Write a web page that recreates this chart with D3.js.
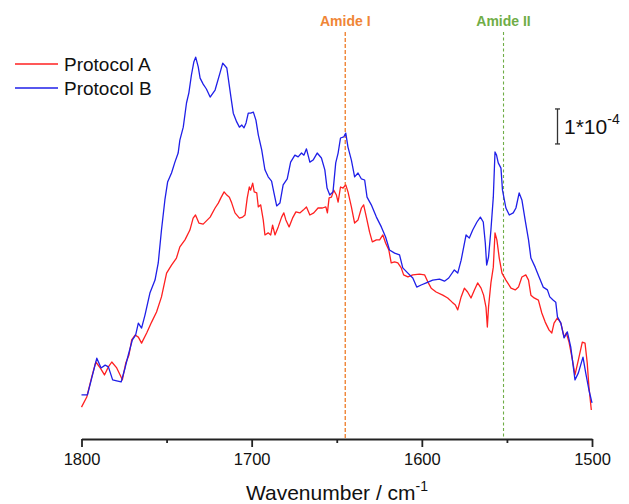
<html>
<head>
  <meta charset="utf-8">
  <style>
    body { margin: 0; background: #fff; }
    svg { font-family: "Liberation Sans", Arial, sans-serif; }
    .line { fill: none; stroke-width: 1.3; stroke-linejoin: round; }
  </style>
</head>
<body>
  <svg id="chart" width="629" height="504"></svg>
  <script src="https://cdn.jsdelivr.net/npm/d3@7/dist/d3.min.js"></script>
  <script>
    // wavenumbers (cm-1) and absorbance (units of 1e-4, arbitrary offset)
    let waveA = [1800,1796.9,1794.0,1791.6,1789.0,1786.5,1784.2,1782.2,1779.3,1777.3,1776.0,1774.0,1772.1,1770.5,1768.5,1766.6,1764.7,1761.7,1758.8,1755.9,
      1753.0,1750.0,1747.1,1744.2,1742.2,1739.2,1736.3,1734.4,1733.0,1731.0,1728.5,1726.0,1724.4,1721.5,1719.6,1718.1,1716.2,1714.6,1713.1,1711.7,
      1709.8,1707.2,1705.3,1703.9,1702.6,1701.4,1700.6,1699.4,1698.5,1697.0,1696.1,1694.7,1693.2,1692.2,1690.3,1688.8,1687.7,1686.3,1684.4,1682.4,
      1681.1,1679.9,1678.0,1676.0,1674.0,1671.7,1669.7,1667.8,1665.8,1663.5,1661.0,1658.4,1656.4,1655.5,1654.5,1653.1,1651.8,1650.2,1649.2,1647.8,
      1646.3,1644.7,1643.4,1641.4,1639.5,1637.5,1635.5,1634.2,1632.6,1630.7,1629.1,1626.7,1624.8,1622.9,1621.3,1619.4,1618.0,1616.0,1614.1,1612.1,
      1610.7,1608.2,1605.3,1601.4,1598.4,1596.5,1594.5,1591.6,1587.7,1584.8,1582.2,1580.3,1578.9,1576.9,1575.0,1573.1,1571.1,1569.1,1567.2,1565.2,
      1563.7,1562.3,1561.5,1560.8,1559.4,1558.0,1557.0,1555.9,1554.5,1552.9,1550.6,1547.6,1545.1,1543.2,1541.2,1538.9,1537.3,1535.9,1534.0,1531.5,
      1529.5,1527.5,1525.2,1523.6,1522.3,1520.3,1518.3,1516.4,1515.1,1513.5,1511.5,1510.0,1508.0,1505.7,1504.1,1502.8,1501.8,1500.4]
    let absA = [0.91,1.20,1.77,2.20,2.03,1.83,2.06,2.20,2.03,1.83,1.69,2.17,2.40,2.83,2.97,2.91,2.74,3.03,3.34,3.63,
      4.06,4.74,4.97,5.17,5.49,5.69,5.97,6.31,6.40,6.17,6.14,6.26,6.34,6.60,6.74,6.89,7.06,6.97,6.91,6.74,
      6.46,6.31,6.34,6.40,6.89,7.20,7.11,7.31,7.06,7.03,6.63,6.69,6.26,5.83,5.89,5.83,6.11,5.83,6.06,6.34,
      6.46,6.26,6.06,6.31,6.49,6.46,6.54,6.63,6.40,6.46,6.60,6.60,6.63,6.46,6.89,6.91,7.11,6.97,6.77,7.20,
      7.17,7.26,7.06,6.63,6.17,6.26,6.60,6.69,6.34,5.91,5.63,5.69,5.69,5.83,5.60,5.40,5.03,5.06,5.03,4.89,
      4.69,4.63,4.69,4.71,4.69,4.49,4.31,4.20,4.11,4.03,3.91,3.83,3.69,4.06,4.31,4.20,4.03,4.26,4.46,4.31,
      4.11,3.77,3.20,3.77,4.46,4.91,5.89,5.69,5.17,4.74,4.54,4.31,4.26,4.34,4.63,4.69,4.54,4.11,4.03,3.97,
      3.60,3.34,3.11,3.03,3.31,3.46,3.31,2.91,3.03,2.77,2.26,1.83,2.26,2.77,2.74,2.17,1.49,0.83]

    let waveB = [1800,1796.5,1794.0,1791.0,1788.5,1786.1,1784.2,1781.7,1779.3,1776.7,1774.4,1772.5,1770.1,1768.2,1766.6,1764.7,1762.7,1759.8,1756.8,1754.9,
      1753.0,1751.0,1749.4,1747.1,1745.1,1743.2,1742.2,1740.2,1738.3,1736.9,1735.4,1734.0,1732.9,1731.4,1730.3,1728.5,1726.6,1724.4,1721.5,1718.6,
      1717.0,1714.6,1712.1,1710.8,1708.8,1707.2,1705.8,1704.5,1703.3,1702.0,1700.6,1699.0,1697.5,1696.1,1694.1,1692.2,1690.3,1688.3,1686.9,1685.3,
      1683.4,1681.5,1679.1,1677.1,1674.6,1672.7,1670.7,1669.3,1667.8,1665.8,1663.9,1661.5,1659.0,1657.0,1655.7,1654.1,1652.2,1650.6,1649.2,1647.8,
      1645.9,1644.7,1643.4,1641.4,1639.5,1637.5,1635.5,1633.6,1632.2,1629.7,1626.7,1623.8,1621.3,1619.0,1616.0,1613.1,1611.2,1608.2,1605.3,1603.0,
      1600.4,1597.4,1593.6,1589.6,1586.7,1584.2,1580.9,1578.9,1576.9,1574.0,1572.1,1570.1,1567.6,1565.6,1563.9,1562.7,1561.9,1560.8,1559.4,1558.0,
      1557.0,1556.1,1555.1,1553.5,1552.6,1550.6,1548.6,1546.3,1544.7,1542.8,1541.2,1539.3,1537.3,1535.9,1533.4,1531.1,1528.7,1526.2,1524.8,1522.9,
      1521.3,1520.3,1518.3,1516.4,1514.5,1512.5,1510.0,1508.0,1505.3,1503.7,1501.8,1500]
    let absB = [1.26,1.26,1.74,2.31,2.03,2.11,2.06,1.69,1.66,1.63,2.03,2.40,2.83,2.97,3.31,3.17,3.54,4.17,4.54,5.03,
      5.97,6.83,7.34,7.60,7.91,8.17,8.54,8.91,9.60,9.89,10.40,10.77,10.91,10.63,10.31,10.14,10.00,9.77,9.97,10.46,
      10.74,10.60,9.74,9.31,9.06,8.91,8.97,8.89,9.03,9.31,9.31,9.34,9.11,8.69,8.26,7.69,7.49,7.37,7.03,6.66,
      6.74,7.26,7.43,7.91,8.11,8.06,8.17,8.11,8.29,7.91,7.97,8.17,8.03,7.69,7.17,6.97,7.06,7.89,8.17,8.60,
      8.63,8.74,8.34,7.97,7.49,7.60,7.43,7.40,6.91,6.69,6.34,6.06,5.77,5.40,5.31,5.26,4.89,4.74,4.60,4.34,
      4.40,4.46,4.54,4.57,4.51,4.60,4.83,4.74,5.11,5.83,5.74,5.97,6.20,6.34,6.20,5.60,4.97,5.20,5.97,6.91,
      8.20,8.11,7.89,7.74,7.11,6.60,6.40,6.46,6.60,7.03,6.83,6.26,5.69,5.17,4.91,4.63,4.34,4.26,4.06,3.97,
      3.91,3.49,3.31,2.89,3.06,2.63,1.69,1.89,2.34,1.89,1.40,1.03]

    let seriesNames = ["Protocol A", "Protocol B"]
    let seriesColors = ["#ff2020", "#1f1fe8"]
    let xTicks = [1800, 1700, 1600, 1500]
    let xMinorTicks = [1750, 1650, 1550]
    let markerNames = ["Amide I", "Amide II"]
    let markerWaves = [1645, 1552]
    let markerColors = ["#F08536", "#70AD47"]
    let markerDash = ["4,2", "3,2.5"]
    let markerWidth = [1.4, 1.1]
    let scaleBarBase = 8.43   // bottom of the 1*10^-4 bar, in units of 1e-4
    let scaleBarLength = 1

    let svg = d3.select("#chart")
    let axisY = 439

    let xScale = d3.scaleLinear().domain([1800, 1500]).range([81.5, 592])
    let yScale = d3.scaleLinear().domain([0, 10]).range([axisY, 89])

    // dashed marker lines
    markerWaves.forEach((w, i) => {
      svg.append("line")
        .attr("x1", xScale(w)).attr("x2", xScale(w))
        .attr("y1", 32).attr("y2", axisY)
        .attr("stroke", markerColors[i])
        .attr("stroke-width", markerWidth[i])
        .attr("stroke-dasharray", markerDash[i])
      svg.append("text")
        .attr("x", xScale(w)).attr("y", 26)
        .attr("text-anchor", "middle")
        .attr("font-weight", "bold")
        .attr("font-size", 14)
        .attr("fill", markerColors[i])
        .text(markerNames[i])
    })

    // x axis
    let xAxis = svg.append("g")
      .attr("transform", "translate(0," + axisY + ")")
      .call(d3.axisBottom(xScale).tickValues(xTicks).tickFormat(d3.format("d"))
        .tickSize(8).tickSizeOuter(0).tickPadding(6))
    xAxis.select(".domain").attr("stroke", "#222").attr("stroke-width", 1.8)
    xAxis.selectAll(".tick line").attr("stroke", "#222").attr("stroke-width", 1.8)
    xAxis.selectAll(".tick text").attr("font-size", 16.5).attr("fill", "#111")
      .attr("font-family", "Liberation Sans, Arial, sans-serif")

    svg.append("g")
      .attr("transform", "translate(0," + axisY + ")")
      .call(d3.axisBottom(xScale).tickValues(xMinorTicks).tickFormat("").tickSize(4).tickSizeOuter(0))
      .call(g => g.select(".domain").remove())
      .selectAll(".tick line").attr("stroke", "#222").attr("stroke-width", 1.8)

    // axis title
    let title = svg.append("text")
      .attr("x", 337).attr("y", 500)
      .attr("text-anchor", "middle")
      .attr("font-size", 21)
      .attr("fill", "#111")
    title.append("tspan").text("Wavenumber / cm")
    title.append("tspan").attr("font-size", 14).attr("dy", -9).text("-1")

    // spectra
    let valueLine = d3.line()
      .x(d => xScale(d[0]))
      .y(d => yScale(d[1]))

    let series = [d3.zip(waveA, absA), d3.zip(waveB, absB)]
    series.forEach((s, i) => {
      svg.append("path")
        .datum(s)
        .attr("class", "line")
        .attr("stroke", seriesColors[i])
        .attr("d", valueLine)
    })

    // legend
    seriesNames.forEach((name, i) => {
      let ly = 64 + i * 24
      svg.append("line")
        .attr("x1", 15).attr("x2", 58)
        .attr("y1", ly).attr("y2", ly)
        .attr("stroke", seriesColors[i]).attr("stroke-width", 1.3)
      svg.append("text")
        .attr("x", 64).attr("y", ly + 7)
        .attr("font-size", 19)
        .attr("fill", "#111")
        .text(name)
    })

    // scale bar
    let barX = 557.5
    let barTop = yScale(scaleBarBase + scaleBarLength)
    let barBottom = yScale(scaleBarBase)
    let bar = svg.append("g").attr("stroke", "#333").attr("stroke-width", 1.3)
    bar.append("line").attr("x1", barX).attr("x2", barX).attr("y1", barTop).attr("y2", barBottom)
    bar.append("line").attr("x1", barX - 2.5).attr("x2", barX + 2.5).attr("y1", barTop).attr("y2", barTop)
    bar.append("line").attr("x1", barX - 2.5).attr("x2", barX + 2.5).attr("y1", barBottom).attr("y2", barBottom)

    let barLabel = svg.append("text")
      .attr("x", 564).attr("y", 134)
      .attr("font-size", 21)
      .attr("fill", "#111")
    barLabel.append("tspan").text("1*10")
    barLabel.append("tspan").attr("font-size", 14).attr("dy", -10).text("-4")
  </script>
</body>
</html>
